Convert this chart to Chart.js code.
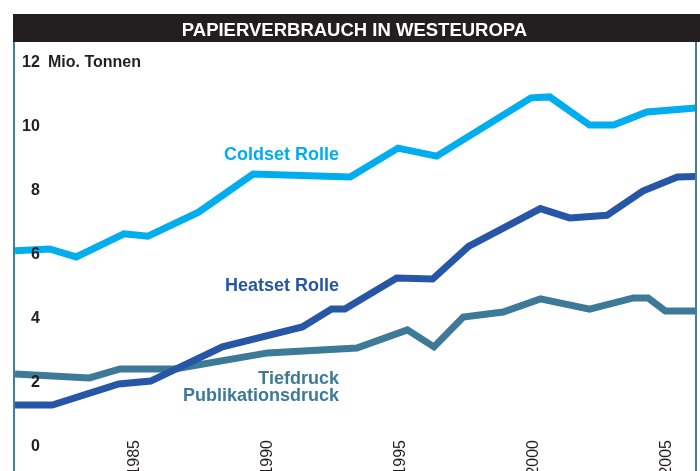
<!DOCTYPE html>
<html><head><meta charset="utf-8">
<script src="https://cdn.jsdelivr.net/npm/chart.js@4/dist/chart.umd.min.js"></script>
<style>html,body{margin:0;padding:0;background:#fff}#wrap{width:700px;height:471px}</style>
</head><body><div id="wrap"><canvas id="c" width="700" height="471"></canvas></div>
<script>
// ---- data ----
const chartTitle = 'PAPIERVERBRAUCH IN WESTEUROPA';
const unitLabel = 'Mio. Tonnen';
const xTicks = [1985, 1990, 1995, 2000, 2005];
const yTicks = [0, 2, 4, 6, 8, 10, 12];

const coldsetYears  = [1980.5, 1981.8, 1982.8, 1984.6, 1985.5, 1987.4, 1989.45, 1993.1, 1994.9, 1996.35, 1999.9, 2000.6, 2002.1, 2003.0, 2004.25, 2006.1];
const coldsetValues = [6.13, 6.19, 5.94, 6.66, 6.59, 7.34, 8.53, 8.44, 9.34, 9.09, 10.91, 10.94, 10.06, 10.06, 10.47, 10.59];

const heatsetYears  = [1980.5, 1981.9, 1984.4, 1985.6, 1988.3, 1991.3, 1992.4, 1992.9, 1994.85, 1996.2, 1997.55, 2000.25, 2001.35, 2002.75, 2004.1, 2005.4, 2006.1];
const heatsetValues = [1.31, 1.31, 1.97, 2.06, 3.13, 3.75, 4.31, 4.31, 5.28, 5.25, 6.27, 7.45, 7.16, 7.24, 8.0, 8.44, 8.45];

const tiefYears  = [1980.5, 1983.3, 1984.45, 1986.5, 1990.0, 1993.35, 1995.25, 1996.25, 1997.35, 1998.85, 2000.25, 2002.1, 2003.75, 2004.3, 2004.95, 2006.1];
const tiefValues = [2.28, 2.16, 2.44, 2.44, 2.94, 3.09, 3.66, 3.13, 4.06, 4.22, 4.63, 4.31, 4.66, 4.66, 4.25, 4.25];

const seriesNames = ['Coldset Rolle', 'Heatset Rolle', 'Tiefdruck Publikationsdruck'];

// ---- styles ----
const COLD = '#00adee', HEAT = '#2756a6', TIEF = '#3c7a98', FRAME = '#3f7fa1', INK = '#231f20';
const FONT = "'Liberation Sans', Arial, sans-serif";
const X_FONT_SIZE = 16, X_LINE_H = 1.2;

const toPts = (xs, ys) => xs.map((x, i) => ({x, y: ys[i]}));

const labelDefs = [
  {lines: ['Coldset Rolle'], color: COLD, x: 1992.68, y: 8.97},
  {lines: ['Heatset Rolle'], color: HEAT, x: 1992.68, y: 4.88},
  {lines: ['Tiefdruck', 'Publikationsdruck'], color: TIEF, x: 1992.68, y: 1.97}
];

const decor = {
  id: 'decor',
  beforeDraw(chart) {
    const ctx = chart.ctx, tb = chart.titleBlock;
    ctx.save();
    ctx.fillStyle = INK;
    ctx.fillRect(tb.left, tb.top, chart.width - tb.left, tb.bottom - tb.top);
    ctx.restore();
  },
  afterDraw(chart) {
    const ctx = chart.ctx, a = chart.chartArea;
    const xs = chart.scales.x, ys = chart.scales.y;
    ctx.save();
    ctx.strokeStyle = FRAME; ctx.lineWidth = 2;
    ctx.beginPath();
    ctx.moveTo(a.left - 1, a.top); ctx.lineTo(a.left - 1, chart.height);
    ctx.moveTo(a.right, a.top); ctx.lineTo(a.right, chart.height);
    ctx.stroke();
    // unit label
    ctx.fillStyle = INK;
    ctx.font = "bold 16px " + FONT;
    ctx.textBaseline = 'middle'; ctx.textAlign = 'left';
    ctx.fillText(unitLabel, a.left + 33, ys.getPixelForValue(12));
    // series labels
    ctx.font = "bold 18px " + FONT;
    ctx.textAlign = 'right'; ctx.textBaseline = 'alphabetic';
    labelDefs.forEach(d => {
      ctx.fillStyle = d.color;
      const px = xs.getPixelForValue(d.x), py = ys.getPixelForValue(d.y);
      d.lines.forEach((t, i) => ctx.fillText(t, px, py + i * 17));
    });
    ctx.restore();
  }
};

const noPad = s => { s.paddingTop = 0; s.paddingBottom = 0; s.paddingLeft = 0; s.paddingRight = 0; };

const ds = (label, pts, color) => ({
  label, data: pts, borderColor: color, borderWidth: 7, pointRadius: 0,
  tension: 0, fill: false, borderJoinStyle: 'miter', borderCapStyle: 'butt'
});

new Chart(document.getElementById('c'), {
  type: 'line',
  data: {
    datasets: [
      ds(seriesNames[0], toPts(coldsetYears, coldsetValues), COLD),
      ds(seriesNames[1], toPts(heatsetYears, heatsetValues), HEAT),
      ds(seriesNames[2], toPts(tiefYears, tiefValues), TIEF)
    ]
  },
  options: {
    responsive: false, animation: false, devicePixelRatio: 1,
    layout: {padding: {left: 13, right: 4, top: 14, bottom: 0}},
    plugins: {
      legend: {display: false}, tooltip: {enabled: false},
      title: {display: true, text: chartTitle, color: '#ffffff',
        font: {family: FONT, size: 18.5, weight: 'bold', lineHeight: 1.2},
        padding: {top: 5.8, bottom: 0}}
    },
    scales: {
      x: {
        type: 'linear', position: 'bottom', min: 1980.5, max: 2006.1,
        grid: {display: false, drawTicks: false}, border: {display: false},
        afterBuildTicks: s => { s.ticks = xTicks.map(v => ({value: v})); },
        afterFit: s => { s.height = 0; noPad(s); },
        ticks: {mirror: true, padding: 31, labelOffset: X_FONT_SIZE * X_LINE_H,
          minRotation: 90, maxRotation: 90, autoSkip: false, color: INK,
          font: {family: FONT, size: X_FONT_SIZE, lineHeight: X_LINE_H},
          callback: v => String(v)}
      },
      y: {
        type: 'linear', position: 'left', min: -0.75, max: 12.656,
        grid: {display: false, drawTicks: false}, border: {display: false},
        afterBuildTicks: s => { s.ticks = yTicks.map(v => ({value: v})); },
        afterFit: s => { s.width = 2; noPad(s); },
        ticks: {z: 1, mirror: true, crossAlign: 'far', padding: 7, color: INK,
          font: {family: FONT, size: 16, weight: 'bold'},
          callback: v => String(v)}
      }
    }
  },
  plugins: [decor]
});
</script></body></html>
